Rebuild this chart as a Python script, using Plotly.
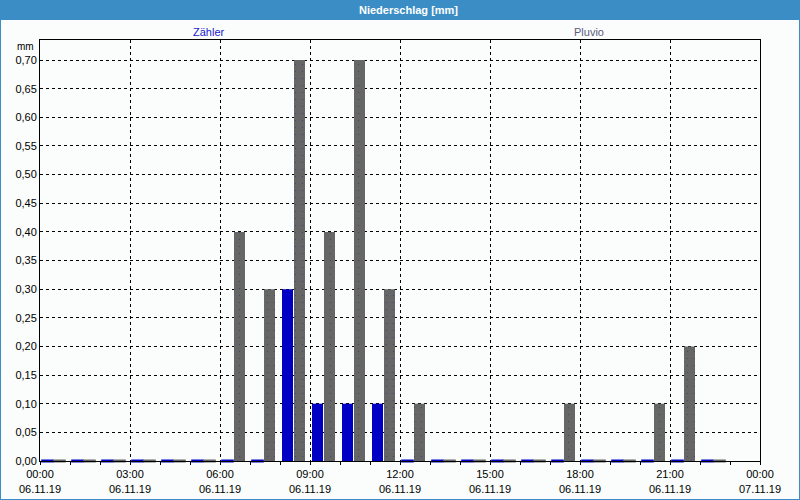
import plotly.graph_objects as go

# ---- data ----
hours = list(range(24))
zaehler = [0, 0, 0, 0, 0, 0, 0, 0, 0.30, 0.10, 0.10, 0.10,
           0, 0, 0, 0, 0, 0, 0, 0, 0, 0, 0, None]
pluvio = [0, 0, 0, 0, 0, 0, 0.40, 0.30, 0.70, 0.40, 0.70, 0.30,
          0.10, 0, 0, 0, 0, 0.10, 0, 0, 0.10, 0.20, 0, None]
x_tickvals = [0, 3, 6, 9, 12, 15, 18, 21, 24]
x_ticktext = ["00:00<br>06.11.19", "03:00<br>06.11.19", "06:00<br>06.11.19",
              "09:00<br>06.11.19", "12:00<br>06.11.19", "15:00<br>06.11.19",
              "18:00<br>06.11.19", "21:00<br>06.11.19", "00:00<br>07.11.19"]
y_tickvals = [0, 0.05, 0.10, 0.15, 0.20, 0.25, 0.30, 0.35, 0.40, 0.45,
              0.50, 0.55, 0.60, 0.65, 0.70]

BLUE = "#0000c4"
GRAY = "#666666"
FRAME_BLUE = "#3b8ec5"
BG = "#fafdfb"
FONT = "Liberation Sans"

W, H = 800, 500
L, R, T, B = 40, 40, 40, 39
PW, PH = W - L - R, H - T - B


def px(x):
    return (x - L) / PW


def py(y):
    return (H - B - y) / PH


BAR_W = 11 / 30
OFF_Z = 2 / 30
OFF_P = 14 / 30

fig = go.Figure()

fig.add_trace(go.Bar(
    x=hours, y=zaehler, width=BAR_W, offset=OFF_Z,
    marker=dict(color=BLUE, line=dict(width=0)), name="Zähler",
))
fig.add_trace(go.Bar(
    x=hours, y=pluvio, width=BAR_W, offset=OFF_P,
    marker=dict(color=GRAY, line=dict(width=0),
                pattern=dict(shape=".", size=7, solidity=0.03,
                             fgcolor="#2c2c78", bgcolor=GRAY)),
    name="Pluvio",
))

# zero-value stubs
zx = [h + OFF_Z + BAR_W / 2 for h, v in zip(hours, zaehler) if v == 0]
zy = [v for v in zaehler if v == 0]
gx = [h + OFF_P + BAR_W / 2 for h, v in zip(hours, pluvio) if v == 0]
gy = [v for v in pluvio if v == 0]
fig.add_trace(go.Scatter(
    x=zx, y=zy, mode="markers", cliponaxis=False,
    marker=dict(symbol="line-ew", size=9, line=dict(color=BLUE, width=3)),
    hoverinfo="skip",
))
fig.add_trace(go.Scatter(
    x=gx, y=gy, mode="markers", cliponaxis=False,
    marker=dict(symbol="line-ew", size=9, line=dict(color=GRAY, width=3)),
    hoverinfo="skip",
))

fig.update_layout(
    width=W, height=H,
    margin=dict(l=L, r=R, t=T, b=B, pad=0, autoexpand=False),
    paper_bgcolor=BG, plot_bgcolor=BG,
    showlegend=False,
    barmode="overlay",
    separators=",.",
    font=dict(family=FONT, size=11, color="black"),
    xaxis=dict(
        range=[0, 24], tickvals=x_tickvals, ticktext=x_ticktext,
        automargin=False,
        ticks="outside", ticklen=3, tickcolor="black",
        showgrid=True, gridcolor="black", gridwidth=1, griddash="3px,3px",
        showline=True, linecolor="black", linewidth=1, mirror=True,
        zeroline=False,
        minor=dict(dtick=1, tick0=0, ticks="outside", ticklen=3,
                   tickcolor="black", showgrid=False),
        tickfont=dict(family=FONT, size=11, color="black"),
    ),
    yaxis=dict(
        range=[0, 0.735], tickvals=y_tickvals, tickformat=".2f",
        automargin=False,
        ticks="", showgrid=True, gridcolor="black", gridwidth=1,
        griddash="3px,3px",
        showline=True, linecolor="black", linewidth=1, mirror=True,
        zeroline=False,
        tickfont=dict(family=FONT, size=11, color="black"),
    ),
    shapes=[
        dict(type="rect", xref="paper", yref="paper",
             x0=px(0), x1=px(W), y0=py(0), y1=py(20),
             fillcolor=FRAME_BLUE, line=dict(width=0), layer="above"),
        dict(type="rect", xref="paper", yref="paper",
             x0=px(0), x1=px(W), y0=py(H), y1=py(0),
             fillcolor="rgba(0,0,0,0)", line=dict(color=FRAME_BLUE, width=2),
             layer="above"),
    ],
    annotations=[
        dict(text="<b>Niederschlag [mm]</b>", xref="paper", yref="paper",
             x=px(409), y=py(10), showarrow=False, xanchor="center",
             yanchor="middle", font=dict(family=FONT, size=11, color="white")),
        dict(text="Zähler", xref="paper", yref="paper",
             x=px(209), y=py(32), showarrow=False, xanchor="center",
             yanchor="middle", font=dict(family=FONT, size=11, color="#1a1ad0")),
        dict(text="Pluvio", xref="paper", yref="paper",
             x=px(589), y=py(32), showarrow=False, xanchor="center",
             yanchor="middle", font=dict(family=FONT, size=11, color="#5a5a80")),
        dict(text="mm", xref="paper", yref="paper",
             x=px(36), y=py(46), showarrow=False, xanchor="right",
             yanchor="middle", font=dict(family=FONT, size=10, color="black")),
    ],
)

fig.write_html("out.html")
